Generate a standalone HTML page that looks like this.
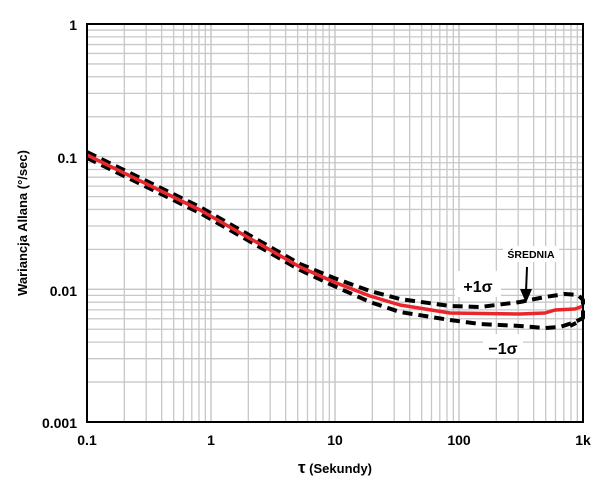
<!DOCTYPE html>
<html><head><meta charset="utf-8"><style>
html,body{margin:0;padding:0;background:#fff;}
svg{display:block;font-family:"Liberation Sans",Arial,sans-serif;font-weight:bold;}
</style></head><body>
<svg id="s" width="600" height="486" viewBox="0 0 600 486" xmlns="http://www.w3.org/2000/svg">
<g id="grid" stroke="#c8c8c8" stroke-width="1.3"></g>
<g fill="none" stroke-linejoin="round">
<polyline stroke="#000" stroke-width="4" stroke-dasharray="10,6" points="87,152 200,207 300,264 334,278 370,291 400,299 450,306 480,307 520,302 545,297 565,294 578,295 583,300 583,318 578,322 570,326"/>
<polyline stroke="#000" stroke-width="4" stroke-dasharray="10,6" points="87,158 200,213 300,270 334,286 370,302 400,312 450,320 480,324 520,326 545,328 560,327 575,322 583,318"/>
<polyline stroke="#e8262b" stroke-width="3.5" points="87,155 200,210 300,267 334,282 370,296 400,305 450,313 520,314 545,313 555,310 575,309 583,306"/>
</g>
<rect x="87" y="24" width="496" height="398" fill="none" stroke="#000" stroke-width="2"/>
<g font-size="14" text-anchor="end" fill="#000">
<text x="77" y="30">1</text><text x="77" y="163">0.1</text><text x="77" y="296">0.01</text><text x="77" y="428">0.001</text>
</g>
<g font-size="14" text-anchor="middle" fill="#000">
<text x="87" y="445">0.1</text><text x="211" y="445">1</text><text x="335" y="445">10</text><text x="459" y="445">100</text><text x="583" y="445">1k</text>
<text x="335" y="473" font-size="13"><tspan font-size="17">τ</tspan> (Sekundy)</text>
</g>
<text transform="translate(27,223) rotate(-90)" text-anchor="middle" font-size="13">Wariancja Allana (°/sec)</text>
<rect x="455" y="271" width="46" height="26" fill="#fff"/>
<text x="478" y="292" text-anchor="middle" font-size="16">+1σ</text>
<rect x="483" y="334" width="40" height="24" fill="#fff"/>
<text x="503" y="354" text-anchor="middle" font-size="16">−1σ</text>
<rect x="503" y="246" width="56" height="16" fill="#fff"/>
<text x="531" y="258" text-anchor="middle" font-size="10.5">ŚREDNIA</text>
<line x1="527" y1="267" x2="526" y2="292" stroke="#000" stroke-width="2"/>
<polygon points="520,289 532,289 526,303" fill="#000"/>
</svg>
<script>
var g=document.getElementById('grid'),ns="http://www.w3.org/2000/svg";
function ln(x1,y1,x2,y2){var l=document.createElementNS(ns,'line');l.setAttribute('x1',x1);l.setAttribute('y1',y1);l.setAttribute('x2',x2);l.setAttribute('y2',y2);g.appendChild(l);}
for(var d=0;d<4;d++)for(var k=1;k<=10;k++){var x=87+124*(d+Math.log10(k));ln(x,24,x,422);}
for(var d=0;d<3;d++)for(var k=1;k<=10;k++){var y=422-132.67*(d+Math.log10(k));ln(87,y,583,y);}
</script>
</body></html>
